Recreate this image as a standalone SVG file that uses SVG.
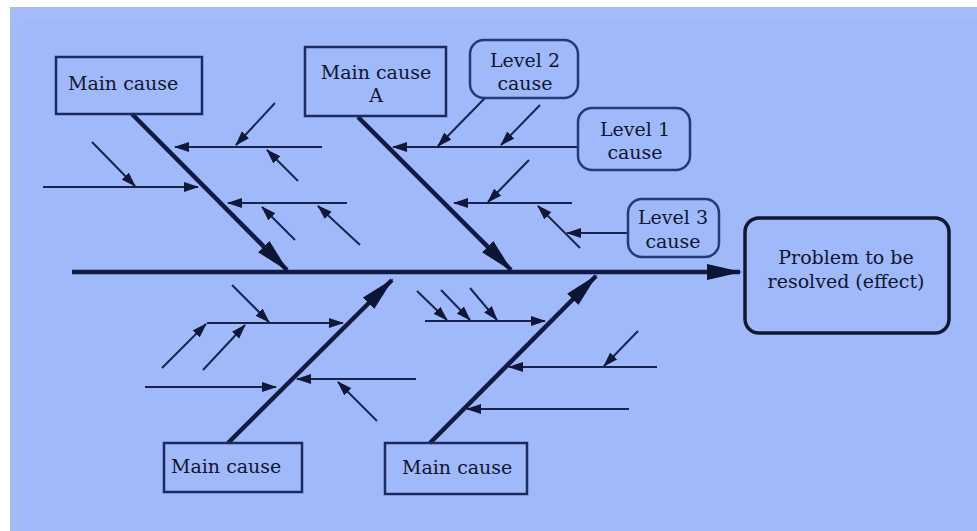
<svg xmlns="http://www.w3.org/2000/svg" width="977" height="531" viewBox="0 0 977 531">
<style>
  .bg { fill: #9fb9fb; }
  .box { fill: none; stroke: #1c2a60; stroke-width: 2.5; }
  .lvl { fill: none; stroke: #25397a; stroke-width: 2.5; }
  .eff { fill: none; stroke: #101830; stroke-width: 3.5; }
  .t { font-family: "DejaVu Serif", "Liberation Serif", serif; font-size: 19px; fill: #10152f; }
  .c { text-anchor: middle; }
  .bone { stroke: #111a40; stroke-width: 4.5; fill: none; }
  .sub { stroke: #18244e; stroke-width: 2; fill: none; marker-end: url(#sa); }
  .big { marker-end: url(#ba); }
</style>
<defs>
  <marker id="sa" markerUnits="userSpaceOnUse" markerWidth="16" markerHeight="11" refX="14" refY="5" orient="auto">
    <path d="M0,0 L15,5 L0,10 z" fill="#0f1838"/>
  </marker>
  <marker id="ba" markerUnits="userSpaceOnUse" markerWidth="36" markerHeight="18" refX="33" refY="8" orient="auto">
    <path d="M0,0 L35,8 L0,16 z" fill="#0d1535"/>
  </marker>
</defs>
<rect class="bg" x="10" y="7" width="967" height="524"/>
<rect x="10" y="7" width="967" height="14" fill="#a6bcf5" opacity="0.6"/>
<rect x="10" y="7" width="12" height="524" fill="#a6bcf5" opacity="0.6"/>

<g id="connectors">
  <line class="bone big" x1="72" y1="272" x2="740" y2="272"/>
  <line class="bone big" x1="132" y1="114" x2="287" y2="270"/>
  <line class="bone big" x1="358" y1="117" x2="511" y2="270"/>
  <line class="bone big" x1="228" y1="443" x2="392" y2="280"/>
  <line class="bone big" x1="430" y1="443" x2="596" y2="276"/>

  <line class="sub" x1="322" y1="147" x2="175" y2="147"/>
  <line class="sub" x1="275" y1="103" x2="236" y2="145"/>
  <line class="sub" x1="298" y1="181" x2="267" y2="150"/>
  <line class="sub" x1="43" y1="187" x2="198" y2="187"/>
  <line class="sub" x1="92" y1="142" x2="135" y2="186"/>
  <line class="sub" x1="347" y1="203" x2="228" y2="203"/>
  <line class="sub" x1="295" y1="240" x2="262" y2="207"/>
  <line class="sub" x1="360" y1="245" x2="318" y2="206"/>

  <line class="sub" x1="578" y1="147" x2="393" y2="147"/>
  <line class="sub" x1="485" y1="98" x2="438" y2="146"/>
  <line class="sub" x1="540" y1="105" x2="501" y2="145"/>
  <line class="sub" x1="572" y1="203" x2="454" y2="203"/>
  <line class="sub" x1="529" y1="160" x2="488" y2="202"/>
  <line class="sub" x1="580" y1="248" x2="538" y2="206"/>
  <line class="sub" x1="628" y1="233" x2="567" y2="233"/>

  <line class="sub" x1="207" y1="323" x2="343" y2="323"/>
  <line class="sub" x1="232" y1="285" x2="269" y2="322"/>
  <line class="sub" x1="162" y1="368" x2="206" y2="324"/>
  <line class="sub" x1="203" y1="370" x2="245" y2="325"/>
  <line class="sub" x1="145" y1="387" x2="276" y2="387"/>
  <line class="sub" x1="416" y1="379" x2="297" y2="379"/>
  <line class="sub" x1="377" y1="421" x2="338" y2="382"/>

  <line class="sub" x1="425" y1="321" x2="545" y2="321"/>
  <line class="sub" x1="417" y1="291" x2="447" y2="320"/>
  <line class="sub" x1="441" y1="290" x2="470" y2="320"/>
  <line class="sub" x1="470" y1="288" x2="497" y2="320"/>
  <line class="sub" x1="657" y1="367" x2="509" y2="367"/>
  <line class="sub" x1="638" y1="331" x2="604" y2="366"/>
  <line class="sub" x1="629" y1="409" x2="467" y2="409"/>
</g>

<g id="cause-top-left">
  <rect class="box" x="56" y="57" width="146" height="57"/>
  <text class="t" x="68" y="90">Main cause</text>
</g>
<g id="cause-a">
  <rect class="box" x="305" y="47" width="141" height="69"/>
  <text class="t c" x="376" y="79">Main cause</text>
  <text class="t c" x="376" y="102">A</text>
</g>
<g id="cause-bottom-left">
  <rect class="box" x="164" y="443" width="138" height="49"/>
  <text class="t" x="171" y="473">Main cause</text>
</g>
<g id="cause-bottom-right">
  <rect class="box" x="385" y="443" width="142" height="51"/>
  <text class="t" x="402" y="474">Main cause</text>
</g>
<g id="level2">
  <rect class="lvl" x="470" y="40" width="108" height="58" rx="14"/>
  <text class="t c" x="525" y="67">Level 2</text>
  <text class="t c" x="525" y="90">cause</text>
</g>
<g id="level1">
  <rect class="lvl" x="578" y="108" width="112" height="62" rx="14"/>
  <text class="t c" x="635" y="136">Level 1</text>
  <text class="t c" x="635" y="159">cause</text>
</g>
<g id="level3">
  <rect class="lvl" x="628" y="199" width="91" height="58" rx="14"/>
  <text class="t c" x="673" y="224">Level 3</text>
  <text class="t c" x="673" y="248">cause</text>
</g>
<g id="effect">
  <rect class="eff" x="745" y="218" width="204" height="115" rx="14"/>
  <text class="t c" x="846" y="264">Problem to be</text>
  <text class="t c" x="846" y="288">resolved (effect)</text>
</g>
</svg>
